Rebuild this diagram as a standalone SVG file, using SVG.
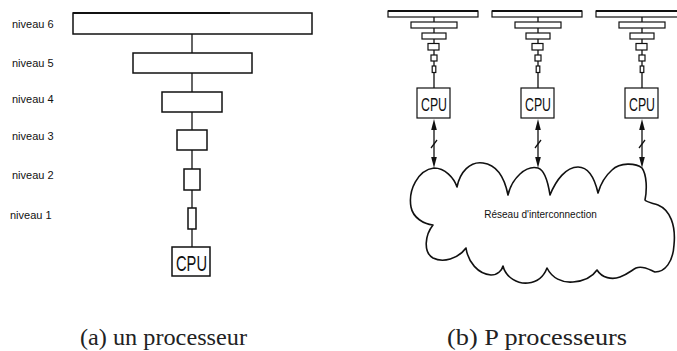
<svg xmlns="http://www.w3.org/2000/svg" width="677" height="351" viewBox="0 0 677 351">
<defs>
<style>
.box{fill:#fff;stroke:#111;stroke-width:1.5}
.sbox{fill:#fff;stroke:#111;stroke-width:1.2}
.ln{stroke:#111;stroke-width:1.3;fill:none}
.head{fill:#111;stroke:none}
.lbl{font-family:"Liberation Sans",Arial,sans-serif;font-size:11px;fill:#111}
.cpu{font-family:"Liberation Sans",Arial,sans-serif;fill:#111}
.cap{font-family:"Liberation Serif","Times New Roman",serif;font-size:24px;fill:#222}
.cloud{fill:#fff;stroke:#111;stroke-width:1.6;stroke-linejoin:round}
</style>
<g id="stack">
<line class="ln" x1="0" y1="17" x2="0" y2="88"/>
<rect class="sbox" x="-46" y="11" width="90" height="6"/>
<line x1="-46" y1="11" x2="44" y2="11" stroke="#111" stroke-width="2"/>
<rect class="sbox" x="-23" y="22" width="46" height="6"/>
<rect class="sbox" x="-12" y="33" width="24" height="6"/>
<rect class="sbox" x="-6" y="43.5" width="11" height="6.5"/>
<rect class="sbox" x="-3" y="55" width="6" height="6"/>
<rect class="sbox" x="-1.8" y="66" width="3.6" height="6.5"/>
<rect class="sbox" x="-17" y="88" width="33" height="30"/>
<text class="cpu" x="-13" y="111" font-size="19" textLength="26" lengthAdjust="spacingAndGlyphs">CPU</text>
</g>
<g id="link">
<line class="ln" x1="0" y1="126" x2="0" y2="160"/>
<path class="head" d="M0,119 L2.8,130 L-2.8,130 Z"/>
<path class="head" d="M0,168 L2.8,157 L-2.8,157 Z"/>
<line class="ln" x1="-3" y1="148" x2="3" y2="140"/>
</g>
</defs>

<g id="connectors">
<line class="ln" x1="192" y1="34" x2="192" y2="247"/>
<g id="link1"><use href="#link" x="434" y="0"/></g>
<g id="link2"><use href="#link" x="538" y="0"/></g>
<g id="link3"><use href="#link" x="642" y="0"/></g>
</g>

<g id="uniprocessor">
<g id="niveau6"><rect class="box" x="73" y="13" width="239" height="21"/><line x1="73" y1="13" x2="230" y2="13" stroke="#111" stroke-width="2"/><text class="lbl" x="12" y="28">niveau 6</text></g>
<g id="niveau5"><rect class="box" x="133" y="53" width="119" height="20"/><text class="lbl" x="12" y="67">niveau 5</text></g>
<g id="niveau4"><rect class="box" x="162" y="92" width="60" height="20"/><text class="lbl" x="12" y="103">niveau 4</text></g>
<g id="niveau3"><rect class="box" x="177" y="130" width="30" height="20"/><text class="lbl" x="12" y="140">niveau 3</text></g>
<g id="niveau2"><rect class="box" x="184" y="169" width="16" height="21"/><text class="lbl" x="12" y="179">niveau 2</text></g>
<g id="niveau1"><rect class="box" x="188" y="208" width="8" height="21"/><text class="lbl" x="10" y="219">niveau 1</text></g>
<g id="cpu-a"><rect class="box" x="172" y="247" width="38" height="29"/><text class="cpu" x="176" y="271" font-size="22" textLength="31" lengthAdjust="spacingAndGlyphs">CPU</text></g>
</g>

<g id="network">
<path class="cloud" d="M434,168 C418,170 408,190 411,207 C413,218 424,224 433,225 C425,235 423,252 433,258 C443,263 458,259 466,248 C468,262 478,274 491,275 C498,275 502,270 503,266 C506,278 518,284 528,283 C538,282 544,276 547,268 C552,278 562,283 573,282 C585,281 593,276 597,270 C602,278 612,280 620,277 C628,274 632,270 636,268 C643,265 650,270 655,272 C665,272 673,262 674,245 C676,225 670,210 658,205 C652,203 646,202 645,200 C647,190 647,175 642,168 C636,163 620,162 612,170 C604,177 600,186 598,193 C595,180 590,167 578,167 C566,167 556,180 550,195 C548,182 545,170 538,168 C526,165 512,178 508,195 C505,180 498,165 483,163 C470,161 460,172 457,187 C454,178 445,168 434,168 Z"/>
<text class="lbl" x="540.5" y="218" text-anchor="middle" style="font-size:10px">Réseau d'interconnection</text>
</g>

<g id="proc1"><use href="#stack" x="434" y="0"/></g>
<g id="proc2"><use href="#stack" x="538" y="0"/></g>
<g id="proc3"><use href="#stack" x="642" y="0"/></g>

<g id="captions">
<text class="cap" x="80" y="345" textLength="167" lengthAdjust="spacingAndGlyphs">(a) un processeur</text>
<text class="cap" x="447" y="345" textLength="180" lengthAdjust="spacingAndGlyphs">(b) P processeurs</text>
</g>
</svg>
